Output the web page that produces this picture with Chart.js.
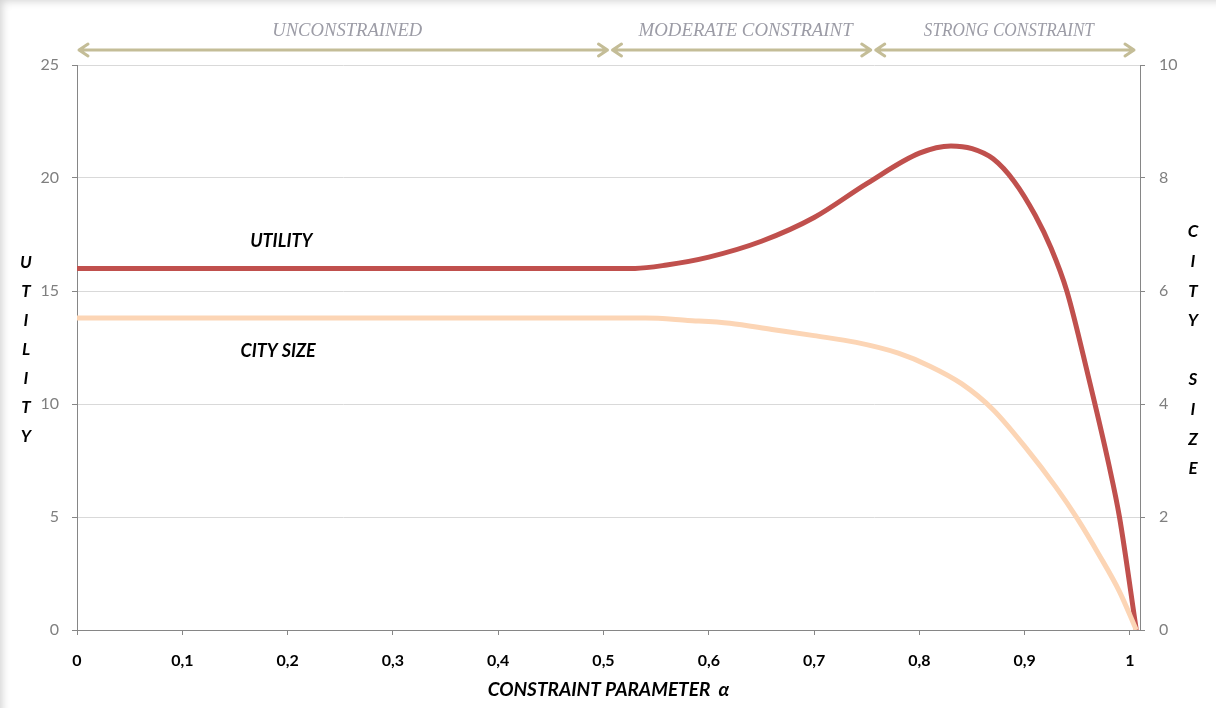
<!DOCTYPE html>
<html>
<head>
<meta charset="utf-8">
<script src="https://cdn.jsdelivr.net/npm/chart.js@4.4.0/dist/chart.umd.min.js"></script>
<style>
  body { margin: 0; background: #fff; }
  #wrap { position: relative; width: 1216px; height: 708px; box-shadow: inset 7px 6px 8px -5px rgba(0,0,0,0.18); }
</style>
</head>
<body>
<div id="wrap"><canvas id="chart" width="1216" height="708"></canvas></div>
<script>
// utility (left axis)
const alphaU = [0, 0.1, 0.2, 0.3, 0.4, 0.5, 0.53, 0.56, 0.6, 0.65, 0.7, 0.75, 0.8, 0.83, 0.85, 0.87, 0.89, 0.91, 0.925, 0.94, 0.96, 0.98, 0.99, 1.006];
const utility = [16, 16, 16, 16, 16, 16, 16, 16.15, 16.5, 17.2, 18.25, 19.75, 21.1, 21.42, 21.3, 20.85, 19.85, 18.35, 16.9, 15.0, 11.3, 7.3, 5.0, 0];

// city size (right axis)
const alphaC = [0, 0.1, 0.2, 0.3, 0.4, 0.5, 0.54, 0.58, 0.62, 0.66, 0.7, 0.74, 0.78, 0.81, 0.84, 0.87, 0.9, 0.93, 0.95, 0.97, 0.99, 1.006];
const citySize = [5.52, 5.52, 5.52, 5.52, 5.52, 5.52, 5.52, 5.48, 5.43, 5.32, 5.21, 5.09, 4.9, 4.67, 4.36, 3.9, 3.25, 2.52, 1.97, 1.35, 0.68, 0];

const xTicks = [0, 0.1, 0.2, 0.3, 0.4, 0.5, 0.6, 0.7, 0.8, 0.9, 1];

const zoneLabels = ['UNCONSTRAINED', 'MODERATE CONSTRAINT', 'STRONG CONSTRAINT'];
const zoneFrom = [0, 0.5, 0.75];
const zoneTo = [0.5, 0.75, 1];

const leftTitle = 'UTILITY';
const rightTitle = 'CITY SIZE';
const xTitle = 'CONSTRAINT PARAMETER  α';

// where the two curve names sit (alpha, left-axis value)
const utilityLabelAt = [0.194, 17.2];
const cityLabelAt = [0.191, 12.35];

const lineColors = ['#c0504d', '#fcd5b5'];

const extras = {
    id: 'extras',
    afterDraw(chart) {
        const ctx = chart.ctx;
        const x = chart.scales.x;
        const y = chart.scales.y;
        const area = chart.chartArea;
        ctx.save();

        // zone arrows along the top
        ctx.strokeStyle = '#c4bd97';
        ctx.lineWidth = 3;
        ctx.lineCap = 'round';
        ctx.lineJoin = 'round';
        const widths = [150, 214, 170];
        zoneLabels.forEach((label, i) => {
            const l = x.getPixelForValue(zoneFrom[i]) + (i === 0 ? 2 : 9);
            const r = x.getPixelForValue(zoneTo[i]) + 4;
            const ay = 50;
            ctx.beginPath();
            ctx.moveTo(l, ay);
            ctx.lineTo(r, ay);
            ctx.moveTo(l + 9, ay - 6);
            ctx.lineTo(l, ay);
            ctx.lineTo(l + 9, ay + 6);
            ctx.moveTo(r - 9, ay - 6);
            ctx.lineTo(r, ay);
            ctx.lineTo(r - 9, ay + 6);
            ctx.stroke();

            ctx.fillStyle = '#9c9ca6';
            ctx.font = 'italic 19px "Liberation Serif"';
            ctx.textAlign = 'center';
            ctx.textBaseline = 'middle';
            ctx.fillText(label, (l + r) / 2 + 4, 31, widths[i]);
        });

        // stacked axis titles
        ctx.fillStyle = '#000';
        ctx.font = 'italic bold 17px Lato';
        ctx.textAlign = 'center';
        ctx.textBaseline = 'middle';
        leftTitle.split('').forEach((ch, i) => {
            ctx.fillText(ch, 26, 263 + i * 29);
        });
        rightTitle.split('').forEach((ch, i) => {
            if (ch !== ' ') ctx.fillText(ch, 1193, 232 + i * 29.6);
        });

        // x axis title
        ctx.font = 'italic bold 19px Lato';
        ctx.fillText(xTitle, (area.left + area.right) / 2, 690);

        // curve names
        ctx.font = 'italic bold 18px Lato';
        ctx.fillText('UTILITY', x.getPixelForValue(utilityLabelAt[0]), y.getPixelForValue(utilityLabelAt[1]));
        ctx.fillText('CITY SIZE', x.getPixelForValue(cityLabelAt[0]), y.getPixelForValue(cityLabelAt[1]));

        ctx.restore();
    }
};

new Chart(document.getElementById('chart'), {
    type: 'line',
    data: {
        datasets: [{
            label: 'Utility',
            data: alphaU.map((a, i) => ({ x: a, y: utility[i] })),
            borderColor: lineColors[0],
            borderWidth: 5,
            pointRadius: 0,
            cubicInterpolationMode: 'monotone',
            yAxisID: 'y',
            order: 1
        }, {
            label: 'City size',
            data: alphaC.map((a, i) => ({ x: a, y: citySize[i] })),
            borderColor: lineColors[1],
            borderWidth: 5,
            pointRadius: 0,
            cubicInterpolationMode: 'monotone',
            yAxisID: 'y2',
            order: 0
        }]
    },
    options: {
        responsive: false,
        animation: false,
        layout: { padding: { top: 65 } },
        plugins: { legend: { display: false }, tooltip: { enabled: false } },
        scales: {
            x: {
                type: 'linear',
                min: 0,
                max: 1.0095,
                afterBuildTicks: s => { s.ticks = xTicks.map(v => ({ value: v })); },
                afterFit: s => { s.height = 78; },
                ticks: {
                    autoSkip: false,
                    maxRotation: 0,
                    padding: 16,
                    color: '#000',
                    font: { family: 'Lato', size: 16, weight: 'bold' },
                    callback: v => String(v).replace('.', ',')
                },
                grid: { drawOnChartArea: false, tickLength: 5, tickColor: '#868686' },
                border: { color: '#868686', width: 1 }
            },
            y: {
                position: 'left',
                min: 0,
                max: 25,
                afterFit: s => { s.width = 77; },
                ticks: { stepSize: 5, padding: 13, color: '#7f7f7f', font: { family: 'Lato', size: 16 } },
                grid: { color: '#d9d9d9', tickLength: 5, tickColor: '#868686' },
                border: { color: '#868686', width: 1 }
            },
            y2: {
                position: 'right',
                min: 0,
                max: 10,
                afterFit: s => { s.width = 76; },
                ticks: { stepSize: 2, padding: 14, color: '#7f7f7f', font: { family: 'Lato', size: 16 } },
                grid: { drawOnChartArea: false, tickLength: 5, tickColor: '#868686' },
                border: { color: '#868686', width: 1 }
            }
        }
    },
    plugins: [extras]
});
</script>
</body>
</html>
